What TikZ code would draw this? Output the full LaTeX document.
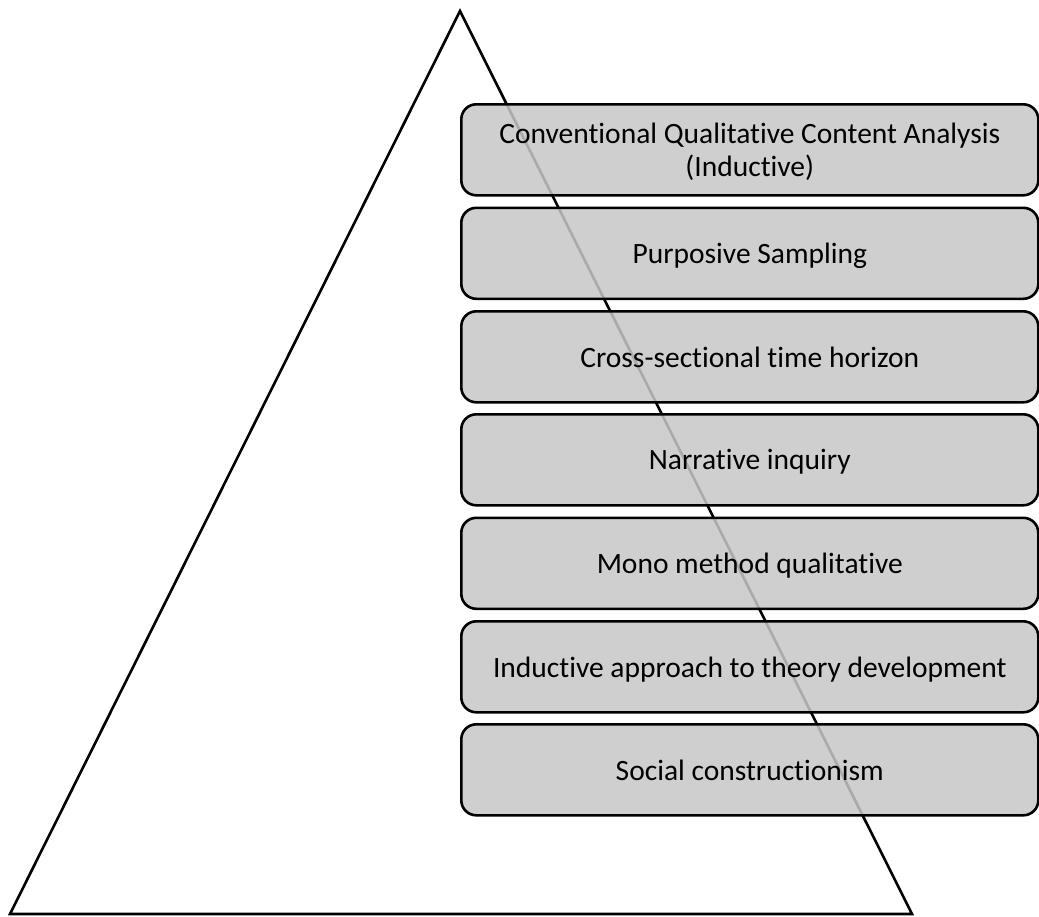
\documentclass[tikz,border=0pt]{standalone}
\usepackage{fontspec}
\setmainfont[Ligatures=NoCommon]{Carlito}
\begin{document}
\begin{tikzpicture}[x=1pt,y=-1pt,
  layer/.style={draw=black, line width=2.6pt, rounded corners=15pt,
    fill=black!22, fill opacity=0.86, text opacity=1,
    minimum width=577pt, minimum height=91pt, anchor=north west,
    align=center, font=\fontsize{29.5}{33}\selectfont,
    inner sep=0pt, text depth=0pt},
  edge/.style={draw=black, line width=2.6pt, line join=miter}]
\useasboundingbox (0,0) rectangle (1039,916);
% pyramid outline
\coordinate (apex) at (460,11);
\coordinate (bl) at (10,914);
\coordinate (br) at (912,914);
\draw[edge] (apex) -- (br) -- (bl) -- cycle;
% stacked layers
\node[layer] (l1) at (460,103)   {Conventional Qualitative Content Analysis\\(Inductive)};
\node[layer] (l2) at (460,206.5) {Purposive Sampling};
\node[layer] (l3) at (460,310)   {Cross-sectional time horizon};
\node[layer] (l4) at (460,413)   {Narrative inquiry};
\node[layer] (l5) at (460,516.5) {Mono method qualitative};
\node[layer] (l6) at (460,620)   {Inductive approach to theory development};
\node[layer] (l7) at (460,723)   {Social constructionism};
\end{tikzpicture}
\end{document}
